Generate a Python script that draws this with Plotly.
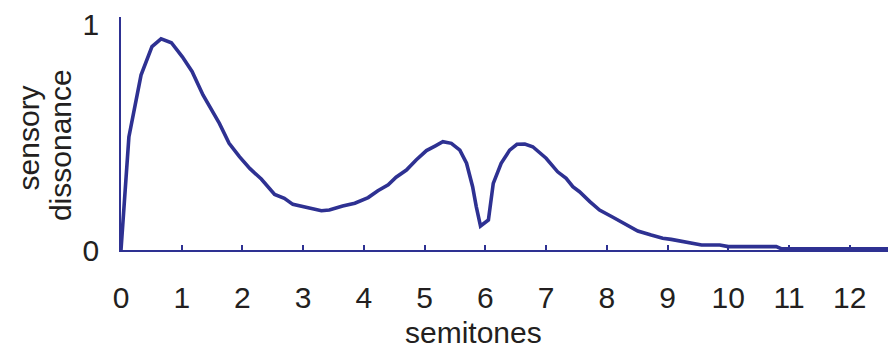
import plotly.graph_objects as go

semitones = [0, 0.13, 0.33, 0.51, 0.66, 0.83, 1.01, 1.17, 1.35, 1.62, 1.78, 1.95, 2.12, 2.31,
             2.53, 2.69, 2.83, 3.05, 3.30, 3.43, 3.65, 3.85, 4.07, 4.23, 4.40, 4.53, 4.70, 4.86,
             5.03, 5.17, 5.30, 5.44, 5.58, 5.69, 5.79, 5.85, 5.92, 6.05, 6.13, 6.26, 6.40, 6.52,
             6.65, 6.78, 7.00, 7.19, 7.33, 7.44, 7.55, 7.72, 7.88, 8.10, 8.32, 8.51, 8.73, 8.92,
             9.06, 9.20, 9.37, 9.56, 9.86, 10.0, 10.79, 10.87, 12.63]
dissonance = [0, 0.50, 0.774, 0.90, 0.934, 0.917, 0.855, 0.79, 0.686, 0.56, 0.472, 0.413, 0.361,
              0.314, 0.246, 0.229, 0.202, 0.189, 0.174, 0.177, 0.195, 0.207, 0.232, 0.262, 0.288,
              0.322, 0.354, 0.398, 0.44, 0.46, 0.479, 0.472, 0.442, 0.384, 0.28, 0.192, 0.106,
              0.133, 0.295, 0.384, 0.442, 0.468, 0.469, 0.457, 0.406, 0.346, 0.317, 0.28, 0.258,
              0.214, 0.177, 0.145, 0.111, 0.084, 0.066, 0.052, 0.047, 0.040, 0.032, 0.022, 0.022,
              0.015, 0.015, 0.006, 0.005]
x_ticks = list(range(0, 13))
y_ticks = [0, 1]

LINE = "#2e3192"
TEXT = "#231f20"
FONT = "Liberation Sans, Arial, Helvetica, sans-serif"
FS = 30

fig = go.Figure()
fig.add_trace(go.Scatter(x=semitones, y=dissonance, mode="lines",
                         line=dict(color=LINE, width=3.6), showlegend=False,
                         cliponaxis=False))

fig.update_layout(
    width=888, height=349,
    margin=dict(l=121, r=0, t=17, b=99),
    paper_bgcolor="white", plot_bgcolor="white",
    font=dict(family=FONT, size=FS, color=TEXT),
    xaxis=dict(range=[0, 12.63], tickvals=x_ticks, ticktext=[str(t) for t in x_ticks],
               showgrid=False, zeroline=False, showline=True, linecolor=LINE, linewidth=1.5,
               ticks="inside", ticklen=5, tickwidth=1.5, tickcolor=LINE,
               ticklabelstandoff=20),
    yaxis=dict(range=[0, 1.031], tickvals=y_ticks, ticktext=["0", "1"],
               showgrid=False, zeroline=False, showline=True, linecolor=LINE, linewidth=1.5,
               ticks="", ticklabelstandoff=14),
    annotations=[
        dict(text="sensory", xref="paper", yref="paper", x=-0.12, y=0.483,
             xanchor="center", yanchor="middle", textangle=-90, showarrow=False,
             font=dict(size=FS, color=TEXT)),
        dict(text="dissonance", xref="paper", yref="paper", x=-0.078, y=0.451,
             xanchor="center", yanchor="middle", textangle=-90, showarrow=False,
             font=dict(size=FS, color=TEXT)),
        dict(text="semitones", xref="paper", yref="paper", x=0.460, y=-0.356,
             xanchor="center", yanchor="middle", showarrow=False,
             font=dict(size=FS, color=TEXT)),
    ],
)

fig.write_html("out.html")
